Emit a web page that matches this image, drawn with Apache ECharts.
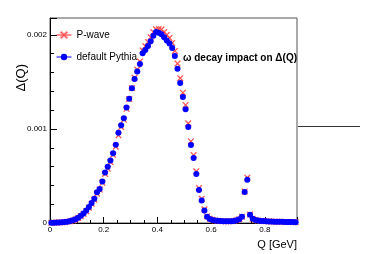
<!DOCTYPE html>
<html>
<head>
<meta charset="utf-8">
<script src="https://cdn.jsdelivr.net/npm/echarts@6/dist/echarts.min.js"></script>
<style>
  html, body { margin: 0; padding: 0; background: #fff; }
  #chart { width: 374px; height: 254px; }
</style>
</head>
<body>
<div id="chart"></div>
<script>
// bin centres in Q [GeV]
var qBins = [
  0.005, 0.015, 0.025, 0.035, 0.045, 0.055, 0.065, 0.075, 0.085, 0.095,
  0.105, 0.115, 0.125, 0.135, 0.145, 0.155, 0.165, 0.175, 0.185, 0.195,
  0.205, 0.215, 0.225, 0.235, 0.245, 0.255, 0.265, 0.275, 0.285, 0.295,
  0.305, 0.315, 0.325, 0.335, 0.345, 0.355, 0.365, 0.375, 0.385, 0.395,
  0.405, 0.415, 0.425, 0.435, 0.445, 0.455, 0.465, 0.475, 0.485, 0.495,
  0.505, 0.515, 0.525, 0.535, 0.545, 0.555, 0.565, 0.575, 0.585, 0.595,
  0.605, 0.615, 0.625, 0.635, 0.645, 0.655, 0.665, 0.675, 0.685, 0.695,
  0.705, 0.715, 0.725, 0.735, 0.745, 0.755, 0.765, 0.775, 0.785, 0.795,
  0.805, 0.815, 0.825, 0.835, 0.845, 0.855, 0.865, 0.875, 0.885, 0.895,
  0.905, 0.915
];

var pWave = [
  0.000002, 0.000003, 0.000004, 0.000005, 0.000007, 0.000009, 0.000013, 0.000019, 0.000027, 0.000038,
  0.000053, 0.000074, 0.000097, 0.000126, 0.000163, 0.000205, 0.000248, 0.000312, 0.000355, 0.000428,
  0.000522, 0.000578, 0.000648, 0.000725, 0.000812, 0.000932, 0.001020, 0.001098, 0.001215, 0.001318,
  0.001435, 0.001545, 0.001632, 0.001718, 0.001835, 0.001880, 0.001925, 0.001975, 0.002030, 0.002060,
  0.002062, 0.002058, 0.002030, 0.002000, 0.001968, 0.001915, 0.001830, 0.001695, 0.001540, 0.001385,
  0.001255, 0.001060, 0.000868, 0.000722, 0.000550, 0.000372, 0.000258, 0.000145, 0.000072, 0.000046,
  0.000034, 0.000027, 0.000023, 0.000021, 0.000019, 0.000018, 0.000018, 0.000019, 0.000022, 0.000029,
  0.000040, 0.000067, 0.000335, 0.000482, 0.000090, 0.000045, 0.000032, 0.000026, 0.000022, 0.000020,
  0.000018, 0.000016, 0.000015, 0.000014, 0.000013, 0.000012, 0.000012, 0.000011, 0.000011, 0.000010,
  0.000010, 0.000009
];

var defaultPythia = [
  0.000002, 0.000003, 0.000004, 0.000005, 0.000007, 0.000010, 0.000014, 0.000020, 0.000029, 0.000041,
  0.000056, 0.000078, 0.000102, 0.000132, 0.000170, 0.000213, 0.000258, 0.000328, 0.000362, 0.000440,
  0.000538, 0.000598, 0.000665, 0.000742, 0.000832, 0.000960, 0.001040, 0.001115, 0.001228, 0.001320,
  0.001432, 0.001532, 0.001612, 0.001690, 0.001805, 0.001840, 0.001882, 0.001932, 0.001990, 0.002030,
  0.002022, 0.002008, 0.001975, 0.001942, 0.001910, 0.001860, 0.001775, 0.001640, 0.001490, 0.001340,
  0.001210, 0.001020, 0.000830, 0.000690, 0.000520, 0.000350, 0.000240, 0.000134, 0.000066, 0.000043,
  0.000033, 0.000027, 0.000023, 0.000021, 0.000019, 0.000018, 0.000018, 0.000019, 0.000022, 0.000029,
  0.000040, 0.000066, 0.000330, 0.000460, 0.000088, 0.000044, 0.000032, 0.000026, 0.000022, 0.000020,
  0.000018, 0.000016, 0.000015, 0.000014, 0.000013, 0.000012, 0.000012, 0.000011, 0.000011, 0.000010,
  0.000010, 0.000009
];

var xTicks = ['0', '0.2', '0.4', '0.6', '0.8'];
var yTicks = ['0', '0.001', '0.002'];

function pairs(xs, ys) {
  return xs.map(function (x, i) { return [x, ys[i]]; });
}

var font = '"Liberation Sans", Arial, sans-serif';
var chart = echarts.init(document.getElementById('chart'));

var option = {
  animation: false,
  backgroundColor: '#fff',
  textStyle: { fontFamily: font },
  title: {
    text: 'ω decay impact on Δ(Q)',
    left: 178,
    top: 48,
    textStyle: { fontSize: 10, fontWeight: 'bold', color: '#000', fontFamily: font }
  },
  legend: {
    orient: 'vertical',
    left: 56,
    top: 30,
    padding: 0,
    itemWidth: 15,
    itemHeight: 8,
    itemGap: 12,
    textStyle: { fontSize: 10, color: '#000', fontFamily: font },
    lineStyle: { width: 1, opacity: 1 },
    data: ['P-wave', 'default Pythia']
  },
  grid: {
    left: 50, top: 18, right: 77, bottom: 31,
    show: true,
    borderColor: '#555',
    borderWidth: 1
  },
  xAxis: {
    type: 'value',
    min: 0,
    max: 0.92,
    interval: 0.2,
    axisLine: { lineStyle: { color: '#000' } },
    axisTick: { inside: true, length: 6, lineStyle: { color: '#000' } },
    minorTick: { show: true, splitNumber: 4, length: 3, lineStyle: { color: '#000' } },
    splitLine: { show: false },
    axisLabel: {
      fontSize: 8, color: '#000', margin: 3, showMaxLabel: false,
      formatter: function (v) { return xTicks[Math.round(v / 0.2)] || ''; }
    }
  },
  yAxis: {
    type: 'value',
    min: 0,
    max: 0.00218,
    interval: 0.001,
    axisLine: { lineStyle: { color: '#000' } },
    axisTick: { inside: true, length: 7, lineStyle: { color: '#000' } },
    minorTick: { show: true, splitNumber: 5, length: 4, lineStyle: { color: '#000' } },
    splitLine: { show: false },
    axisLabel: {
      fontSize: 8, color: '#000', margin: 3, showMaxLabel: false,
      formatter: function (v) { return yTicks[Math.round(v / 0.001)] || ''; }
    }
  },
  graphic: [
    {
      type: 'text', left: 15, top: 64, rotation: Math.PI / 2,
      style: { text: 'Δ(Q)', font: '13px ' + font, fill: '#000' }
    },
    {
      type: 'text', right: 77, top: 239,
      style: { text: 'Q [GeV]', font: '11px ' + font, fill: '#000' }
    },
    {
      type: 'line',
      shape: { x1: 298, y1: 126.5, x2: 360, y2: 126.5 },
      style: { stroke: '#333', lineWidth: 1 }
    }
  ],
  series: [
    {
      name: 'P-wave',
      type: 'line',
      data: pairs(qBins, pWave),
      showAllSymbol: true,
      symbol: 'path://M0,1 L1,0 L5,4 L9,0 L10,1 L6,5 L10,9 L9,10 L5,6 L1,10 L0,9 L4,5 Z',
      symbolSize: 6,
      itemStyle: { color: '#ff2020', borderColor: 'rgba(255,110,110,0.55)', borderWidth: 1 },
      lineStyle: { width: 0, color: '#ff2020' },
      z: 2
    },
    {
      name: 'default Pythia',
      type: 'line',
      data: pairs(qBins, defaultPythia),
      showAllSymbol: true,
      symbol: 'circle',
      symbolSize: 6,
      itemStyle: { color: '#0000ff' },
      lineStyle: { width: 0, color: '#0000ff' },
      z: 3
    }
  ]
};

chart.setOption(option);
</script>
</body>
</html>
